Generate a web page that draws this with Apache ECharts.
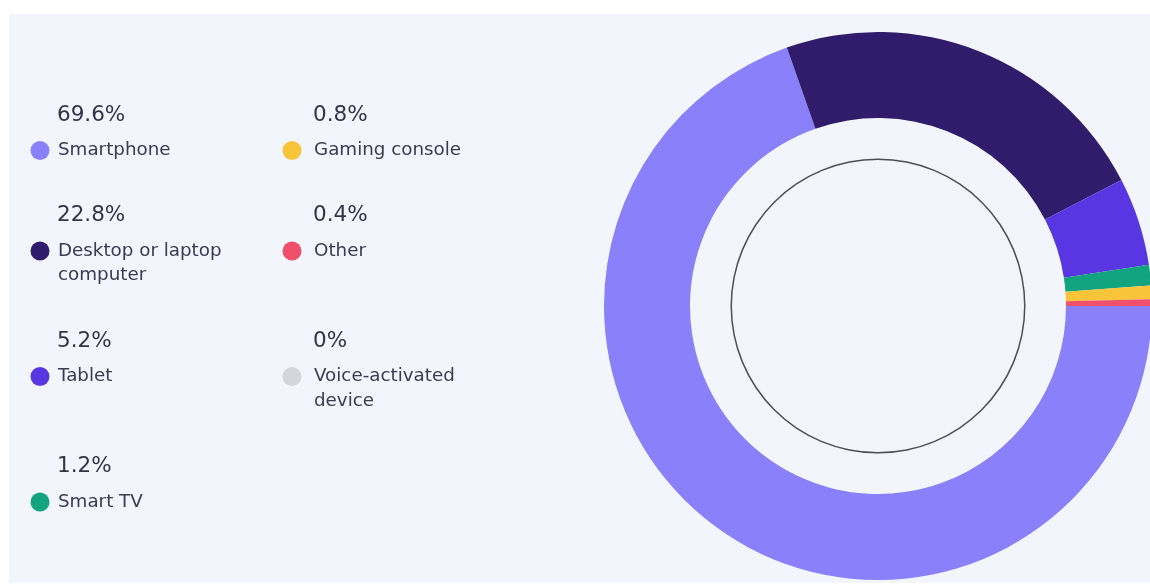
<!DOCTYPE html>
<html>
<head>
<meta charset="utf-8">
<title>Devices used to access the internet</title>
<script src="https://cdn.jsdelivr.net/npm/echarts@6/dist/echarts.min.js"></script>
<style>
  html, body { margin: 0; padding: 0; background: #ffffff; }
  #panel { position: absolute; left: 9px; top: 14px; width: 1141px; height: 569px; background: #f3f5fc; }
  #chart { position: absolute; left: 0; top: 0; width: 1150px; height: 585px; }
</style>
</head>
<body>
<div id="panel"></div>
<div id="chart"></div>
<script>
// Share of internet traffic by device type (%)
const devices = [
  'Smartphone',
  'Desktop or laptop\ncomputer',
  'Tablet',
  'Smart TV',
  'Gaming console',
  'Other',
  'Voice-activated\ndevice'
];
const shares = [69.6, 22.8, 5.2, 1.2, 0.8, 0.4, 0];
const colors = ['#8a80fa', '#311b6b', '#5836e2', '#12a37f', '#f7c43a', '#f0506c', '#d3d6da'];

const chart = echarts.init(document.getElementById('chart'), null, { renderer: 'canvas' });

// Two-column key: percentage on top, coloured dot + name below
const FONT = '"DejaVu Sans", sans-serif';
const colX = [40, 292];          // dot centre per column
const rowsPerCol = 4;
const nameLines = devices.map(d => d.split('\n').length);
const rowTop = [];
let y = 115;
for (let r = 0; r < rowsPerCol; r++) {
  rowTop.push(y);
  const a = nameLines[r] || 1;
  const b = nameLines[r + rowsPerCol] || 1;
  y += 100.5 + 25 * (Math.max(a, b) - 1);
}

const keyElements = [];
devices.forEach((name, i) => {
  const col = Math.floor(i / rowsPerCol);
  const row = i % rowsPerCol;
  const dotX = colX[col];
  const textX = dotX + (col === 0 ? 17 : 21);
  const pctY = rowTop[row];
  const nameY = pctY + 35.5;
  keyElements.push({
    type: 'text', x: textX, y: pctY, silent: true,
    style: { text: shares[i] + '%', font: '21.5px ' + FONT, fill: '#333347', align: 'left', verticalAlign: 'middle' }
  });
  keyElements.push({
    type: 'circle', silent: true,
    shape: { cx: dotX, cy: nameY, r: 9.5 },
    style: { fill: colors[i] }
  });
  keyElements.push({
    type: 'text', x: textX + 1, y: nameY - 12.25, silent: true,
    style: { text: name, font: '18.3px ' + FONT, fill: '#3a3a50', align: 'left', verticalAlign: 'top', lineHeight: 24.5 }
  });
});

chart.setOption({
  backgroundColor: 'transparent',
  animation: false,
  graphic: { elements: keyElements },
  series: [
    {
      type: 'pie',
      name: 'Device share',
      center: [878, 306],
      radius: [188, 274],
      startAngle: 0,
      clockwise: true,
      avoidLabelOverlap: false,
      silent: true,
      label: { show: false },
      labelLine: { show: false },
      itemStyle: { borderWidth: 0 },
      data: devices.map((d, i) => ({ name: d, value: shares[i], itemStyle: { color: colors[i] } }))
    },
    {
      // thin ring inside the hole
      type: 'pie',
      name: 'ring',
      center: [878, 306],
      radius: [146, 147.5],
      silent: true,
      label: { show: false },
      labelLine: { show: false },
      data: [{ value: 1, name: '', itemStyle: { color: '#4e4e56' } }]
    }
  ]
});
</script>
</body>
</html>
